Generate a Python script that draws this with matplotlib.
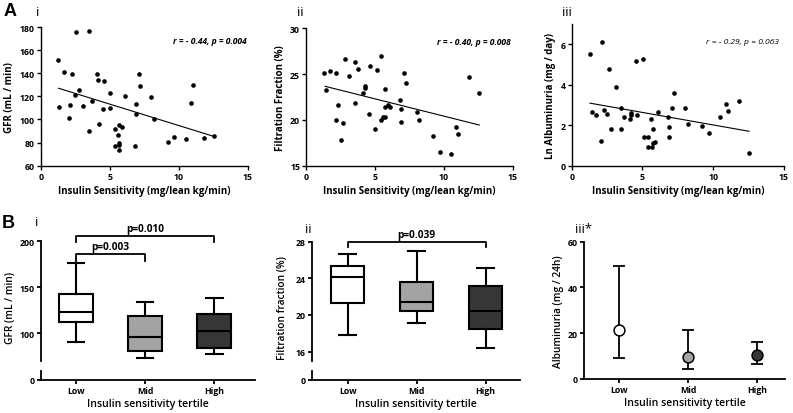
import matplotlib
matplotlib.use("Agg")
import matplotlib.pyplot as plt
import numpy as np

# ---------------- data ----------------
# Panel A i: GFR vs insulin sensitivity
gfr_x = [1.28, 1.35, 1.67, 2.10, 2.08, 2.27, 2.49, 2.58, 2.78, 3.09, 3.48, 3.48, 3.70, 4.11, 4.18,
         4.20, 4.49, 4.61, 5.02, 5.00, 5.39, 5.39, 5.58, 5.68, 5.70, 5.70, 5.70, 5.92, 6.09, 6.81,
         6.88, 6.88, 7.10, 7.20, 8.00, 8.19, 9.20, 9.69, 10.50, 10.90, 11.01, 11.81, 12.54]
gfr_y = [151.5, 110.5, 141.0, 112.8, 101.3, 139.3, 120.9, 175.7, 125.8, 112.0, 176.5, 89.7, 116.3, 139.3, 134.4,
         96.1, 109.0, 133.0, 122.9, 109.6, 92.0, 76.7, 86.5, 95.5, 79.6, 78.2, 73.6, 93.2, 120.0, 76.7,
         113.4, 104.4, 139.0, 128.7, 119.1, 100.1, 80.8, 84.5, 82.8, 114.2, 129.8, 84.2, 85.4]
gfr_fit_x = [1.3, 12.5]
gfr_fit_y = [127.0, 85.5]

# Panel A ii: filtration fraction vs insulin sensitivity
ff_x = [1.31, 1.41, 1.72, 2.13, 2.33, 2.13, 2.64, 2.54, 2.81, 3.13, 3.51, 3.54, 3.73, 4.10, 4.24,
        4.24, 4.56, 4.63, 5.02, 5.11, 5.43, 5.43, 5.60, 5.72, 5.72, 5.72, 5.96, 6.10, 6.81, 6.90,
        6.90, 7.12, 7.24, 8.04, 8.21, 9.23, 9.74, 10.52, 10.90, 11.05, 11.82, 12.55]
ff_y = [25.09, 23.30, 25.38, 25.09, 21.63, 19.99, 19.66, 17.77, 26.69, 24.76, 26.32, 21.88, 25.60, 22.94, 23.67,
        23.52, 20.61, 25.92, 19.04, 25.49, 26.98, 20.03, 20.28, 20.35, 23.37, 21.41, 21.63, 21.37, 22.17, 21.15,
        19.73, 25.09, 24.03, 20.83, 20.03, 18.24, 16.53, 16.31, 19.26, 18.42, 24.65, 22.94]
ff_fit_x = [1.36, 12.57]
ff_fit_y = [23.67, 19.44]

# Panel A iii: ln albuminuria vs insulin sensitivity
alb_x = [1.29, 1.41, 1.72, 2.12, 2.09, 2.30, 2.52, 2.61, 2.80, 3.10, 3.48, 3.50, 3.71, 4.11, 4.19,
         4.21, 4.51, 4.61, 5.01, 5.10, 5.41, 5.41, 5.60, 5.69, 5.71, 5.76, 5.90, 6.11, 6.80, 6.89,
         6.89, 7.12, 7.22, 7.99, 8.21, 9.22, 9.71, 10.51, 10.89, 11.03, 11.83, 12.53]
alb_y = [5.54, 2.64, 2.50, 6.10, 1.22, 2.73, 2.56, 4.78, 1.79, 3.87, 2.84, 1.79, 2.41, 2.31, 2.58,
         2.51, 5.16, 2.48, 5.29, 1.44, 0.93, 1.40, 2.31, 0.94, 1.79, 1.11, 1.19, 2.64, 2.41, 1.93,
         1.42, 2.84, 3.59, 2.84, 2.08, 1.95, 1.64, 2.41, 3.06, 2.71, 3.19, 0.63]
alb_fit_x = [1.29, 12.53]
alb_fit_y = [3.09, 1.70]

# Panel B
tertiles = ["Low", "Mid", "High"]
tertile_colors = ["#ffffff", "#a3a3a3", "#363636"]

gfr_box_lo = [89.9, 73.2, 76.8]
gfr_box_q1 = [112.3, 80.4, 84.1]
gfr_box_med = [123.2, 95.7, 102.2]
gfr_box_q3 = [142.8, 118.8, 121.0]
gfr_box_hi = [176.0, 134.0, 138.4]

ff_box_lo = [17.85, 19.13, 16.36]
ff_box_q1 = [21.27, 20.40, 18.50]
ff_box_med = [24.10, 21.45, 20.47]
ff_box_q3 = [25.38, 23.56, 23.16]
ff_box_hi = [26.65, 26.95, 25.10]

alb_med = [21.5, 9.5, 10.4]
alb_err_lo = [9.05, 4.1, 6.4]
alb_err_hi = [49.5, 21.5, 16.2]

W, H = 793, 414
FONT = "Open Sans"
plt.rcParams["font.family"] = [FONT, "DejaVu Sans"]

fig = plt.figure(figsize=(W / 100, H / 100), dpi=100)

TICK_FS = 6.3


def rect(l, t, r, b):
    return [l / W, 1 - b / H, (r - l) / W, (b - t) / H]


def style_ax(ax, lw=1.0):
    for s in ["top", "right"]:
        ax.spines[s].set_visible(False)
    for s in ["left", "bottom"]:
        ax.spines[s].set_linewidth(lw)
    ax.tick_params(axis="both", length=3, width=lw, labelsize=TICK_FS, pad=1.5)


def bold_ticks(ax):
    for lab in ax.get_xticklabels() + ax.get_yticklabels():
        lab.set_fontweight("bold")


# ---------------- Panel A ----------------
scatter_specs = [
    (rect(40.7, 28, 247.7, 166.7), gfr_x, gfr_y, gfr_fit_x, gfr_fit_y, (60, 180), [60, 80, 100, 120, 140, 160, 180],
     "GFR (mL / min)", "r = - 0.44, p = 0.004", 14.9, 168, "bold"),
    (rect(306.3, 29.3, 512.7, 166.7), ff_x, ff_y, ff_fit_x, ff_fit_y, (15, 30), [15, 20, 25, 30],
     "Filtration Fraction (%)", "r = - 0.40, p = 0.008", 14.85, 28.58, "bold"),
    (rect(571.7, 25, 784, 166.7), alb_x, alb_y, alb_fit_x, alb_fit_y, (0, 7), [0, 2, 4, 6],
     "Ln Albuminuria (mg / day)", "r = - 0.29, p = 0.063", 14.65, 6.15, "normal"),
]

for (r, xs, ys, fx, fy, ylim, yticks, ylabel, ann, ax_, ay_, aw) in scatter_specs:
    ax = fig.add_axes(r)
    ax.scatter(xs, ys, s=11, color="black", zorder=3, linewidths=0)
    ax.plot(fx, fy, color="black", lw=0.8)
    ax.set_xlim(0, 15)
    ax.set_ylim(*ylim)
    ax.set_xticks([0, 5, 10, 15])
    ax.set_yticks(yticks)
    style_ax(ax, lw=1.0)
    bold_ticks(ax)
    ax.set_xlabel("Insulin Sensitivity (mg/lean kg/min)", fontsize=7, fontweight="bold", labelpad=3)
    ax.set_ylabel(ylabel, fontsize=7, fontweight="bold", labelpad=3)
    ax.text(ax_, ay_, ann, ha="right", va="center", fontsize=6.1, fontweight=aw, style="italic")

# ---------------- Panel B (box plots with broken axes) ----------------
box_specs = [
    (40.7, 242.3, 255, 361.7, 371.7, 380.7, (-0.51, 2.59), (70, 200), [100, 150, 200], (0, 10),
     [gfr_box_lo, gfr_box_q1, gfr_box_med, gfr_box_q3, gfr_box_hi], "GFR (mL / min)",
     [(0, 1, 186.2, 178.5, "p=0.003"), (0, 2, 206.0, 199.5, "p=0.010")]),
    (311.7, 242.7, 520, 361.7, 371.7, 381.0, (-0.52, 2.5), (15, 28), [16, 20, 24, 28], (0, 1),
     [ff_box_lo, ff_box_q1, ff_box_med, ff_box_q3, ff_box_hi], "Filtration fraction (%)",
     [(0, 2, 28.0, 27.4, "p=0.039")]),
]

LAB_W = "semibold"

for (l, t, r_, b_up, t_lo, b_lo, xlim, ylim_up, yt_up, ylim_lo, stats_arr, ylabel, brackets) in box_specs:
    axu = fig.add_axes(rect(l, t, r_, b_up))
    axl = fig.add_axes(rect(l, t_lo, r_, b_lo))
    lo, q1, med, q3, hi = stats_arr
    stats = [dict(whislo=lo[i], q1=q1[i], med=med[i], q3=q3[i], whishi=hi[i], fliers=[], label=tertiles[i])
             for i in range(3)]
    lw = 1.5
    bp = axu.bxp(stats, positions=[0, 1, 2], widths=0.49, patch_artist=True, showfliers=False,
                 boxprops=dict(linewidth=lw, edgecolor="black"),
                 medianprops=dict(color="black", linewidth=lw),
                 whiskerprops=dict(color="black", linewidth=lw),
                 capprops=dict(color="black", linewidth=lw), capwidths=0.24)
    for patch, c in zip(bp["boxes"], tertile_colors):
        patch.set_facecolor(c)
    for ax in (axu, axl):
        ax.set_xlim(*xlim)
        style_ax(ax, lw=1.3)
    axu.set_ylim(*ylim_up)
    axu.set_yticks(yt_up)
    axu.spines["bottom"].set_visible(False)
    axu.tick_params(axis="x", bottom=False, labelbottom=False)
    bold_ticks(axu)
    axl.set_ylim(*ylim_lo)
    axl.set_yticks([0])
    axl.set_xticks([0, 1, 2])
    axl.set_xticklabels(tertiles)
    bold_ticks(axl)
    axl.set_xlabel("Insulin sensitivity tertile", fontsize=7.6, fontweight=LAB_W, labelpad=2)
    axu.set_ylabel(ylabel, fontsize=7.3, fontweight=LAB_W, labelpad=3)
    axu.yaxis.set_label_coords(-0.115, 0.45)
    span = ylim_up[1] - ylim_up[0]
    for (i, j, yb, yt_, lab) in brackets:
        axu.plot([i, i, j, j], [yt_, yb, yb, yt_], color="black", lw=1.3, clip_on=False)
        axu.text((i + j) / 2, yb + span * 0.015, lab, ha="center", va="bottom", fontsize=7.3, fontweight="bold")

# Panel B iii: albuminuria median + IQR
ax = fig.add_axes(rect(584.3, 242.7, 785, 379.7))
xs = np.arange(3)
for i in range(3):
    ax.errorbar([xs[i]], [alb_med[i]],
                yerr=[[alb_med[i] - alb_err_lo[i]], [alb_err_hi[i] - alb_med[i]]],
                fmt="none", ecolor="black", elinewidth=1.3, capsize=4.5, capthick=1.3, zorder=2)
    ax.plot([xs[i]], [alb_med[i]], "o", ms=7.8, mfc=tertile_colors[i], mec="black", mew=1.1, zorder=3)
ax.set_xlim(-0.51, 2.4)
ax.set_ylim(0, 60)
ax.set_yticks([0, 20, 40, 60])
ax.set_xticks([0, 1, 2])
ax.set_xticklabels(tertiles)
style_ax(ax, lw=1.3)
bold_ticks(ax)
ax.set_xlabel("Insulin sensitivity tertile", fontsize=7.6, fontweight=LAB_W, labelpad=2)
ax.set_ylabel("Albuminuria (mg / 24h)", fontsize=7.3, fontweight=LAB_W, labelpad=3)

# ---------------- panel labels ----------------
def ftext(x, y, s, **kw):
    fig.text(x / W, 1 - y / H, s, **kw)

big = dict(fontsize=13, fontweight="bold", family=["Liberation Sans", "DejaVu Sans"], ha="center", va="center")
ftext(10, 12, "A", **big)
ftext(8.5, 223.5, "B", **big)
small = dict(fontsize=9.5, ha="center", va="center")
ftext(38, 13, "i", **small)
ftext(300, 12.5, "ii", **small)
ftext(567, 12.5, "iii", **small)
ftext(37, 223, "i", **small)
ftext(308, 230, "ii", **small)
ftext(575, 230, "iii*", fontsize=9.5, ha="left", va="center")

fig.savefig("out.png", dpi=100)
